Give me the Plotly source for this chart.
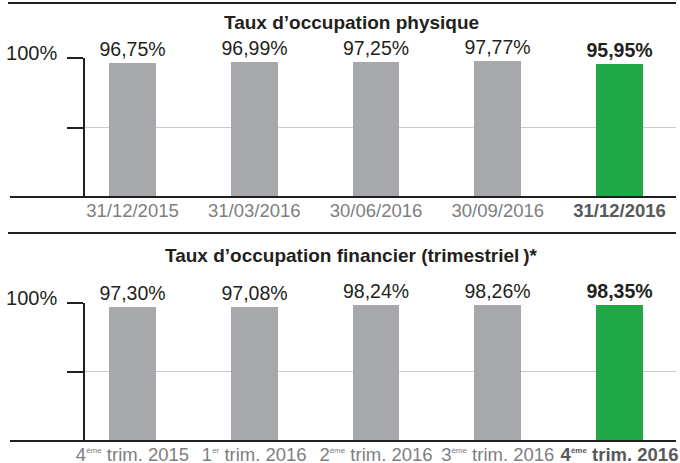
import plotly.graph_objects as go

# ---- data ----
dates = ["31/12/2015", "31/03/2016", "30/06/2016", "30/09/2016", "31/12/2016"]
physique = [96.75, 96.99, 97.25, 97.77, 95.95]
q_num = ["4", "1", "2", "3", "4"]
q_sup = ["ème", "er", "ème", "ème", "ème"]
q_year = ["2015", "2016", "2016", "2016", "2016"]
financier = [97.30, 97.08, 98.24, 98.26, 98.35]
title1 = "Taux d\u2019occupation physique"
title2 = "Taux d\u2019occupation financier (trimestriel\u202f)*"
y_tickvals = [50, 100]
y_ticktext = [" ", "100%"]

quarters = ["%s<sup><span style='font-size:8px'>%s</span></sup> trim. %s" % (a, b, c)
            for a, b, c in zip(q_num, q_sup, q_year)]

W, H = 680, 463
FONT = "Liberation Sans, Arial, Helvetica, sans-serif"
GRAY = "#a7a8ab"
GREEN = "#21a846"
DARK = "#231f20"
TICKGRAY = "#7d7e81"
BOLDGRAY = "#58595b"


def fmt(v):
    return f"{v:.2f}".replace(".", ",") + "%"


def py(px):
    return (H - px) / H


def px_(x):
    return x / W


fig = go.Figure()

for vals, cats, xa, ya in [(physique, dates, "x", "y"), (financier, quarters, "x2", "y2")]:
    n = len(vals)
    colors = [GRAY] * (n - 1) + [GREEN]
    texts = [fmt(v) for v in vals[:-1]] + ["<b>" + fmt(vals[-1]) + "</b>"]
    fig.add_trace(go.Bar(
        x=list(range(n)), y=vals, width=0.386,
        marker=dict(color=colors, line=dict(width=0)),
        text=texts, textposition="outside", cliponaxis=False, constraintext="none",
        textfont=dict(family=FONT, size=19.5, color=DARK),
        xaxis=xa, yaxis=ya, showlegend=False, hoverinfo="skip",
    ))

xdom = [px_(85), px_(676)]
xr = [-0.39, 4.464]


def xaxis(cats, anchor):
    ticktext = [c for c in cats[:-1]] + [
        "<b><span style='color:%s'>%s</span></b>" % (BOLDGRAY, cats[-1])]
    return dict(domain=xdom, range=xr, anchor=anchor, tickmode="array",
                tickvals=list(range(len(cats))), ticktext=ticktext, automargin=False,
                showgrid=False, zeroline=False, showline=False, ticks="",
                tickfont=dict(family=FONT, size=18.5, color=TICKGRAY), fixedrange=True)


def yaxis(dom, anchor):
    return dict(domain=dom, range=[0, 100], anchor=anchor, tickmode="array",
                tickvals=y_tickvals, ticktext=y_ticktext, showgrid=True, automargin=False,
                gridcolor="#c9cacc", gridwidth=1.2, zeroline=False,
                showline=True, linecolor=DARK, linewidth=1.5,
                ticks="outside", ticklen=16, tickcolor=DARK, tickwidth=1.5,
                ticklabelstandoff=6, ticklabelshift=-5,
                tickfont=dict(family=FONT, size=20, color=DARK), fixedrange=True)


fig.update_layout(
    template="none",
    width=W, height=H,
    margin=dict(l=0, r=0, t=0, b=0, autoexpand=False),
    paper_bgcolor="white", plot_bgcolor="white",
    xaxis=xaxis(dates, "y"),
    yaxis=yaxis([py(197), py(58)], "x"),
    xaxis2=xaxis(quarters, "y2"),
    yaxis2=yaxis([py(441), py(302.7)], "x2"),
    # decorative top rule drawn as a free axis line
    xaxis3=dict(domain=[px_(8), px_(676)], anchor="free", position=py(3), side="top",
                showline=True, linecolor=DARK, linewidth=2, showgrid=False, zeroline=False,
                showticklabels=False, ticks="", automargin=False, fixedrange=True,
                overlaying="x"),
    bargap=0, showlegend=False,
)

line = dict(color=DARK, width=2)
shapes = [
    dict(type="line", xref="paper", yref="paper", x0=px_(8), x1=px_(676),
         y0=py(3), y1=py(3), line=line, layer="above"),
    dict(type="line", xref="paper", yref="paper", x0=px_(8), x1=px_(676),
         y0=py(233), y1=py(233), line=line, layer="above"),
]
for r in [197, 441]:
    shapes.append(dict(type="line", xref="paper", yref="paper", x0=px_(10), x1=px_(676),
                       y0=py(r), y1=py(r), line=dict(color=DARK, width=1.8), layer="above"))
fig.update_layout(shapes=shapes)

for t, yy in [(title1, 23), (title2, 256)]:
    fig.add_annotation(text="<b>" + t + "</b>", x=px_(351), y=py(yy), xref="paper", yref="paper",
                       xanchor="center", yanchor="middle", showarrow=False,
                       font=dict(family=FONT, size=19, color=DARK))

fig.write_html("out.html", config={"displayModeBar": False},
               post_script="document.body.style.margin='0';")
